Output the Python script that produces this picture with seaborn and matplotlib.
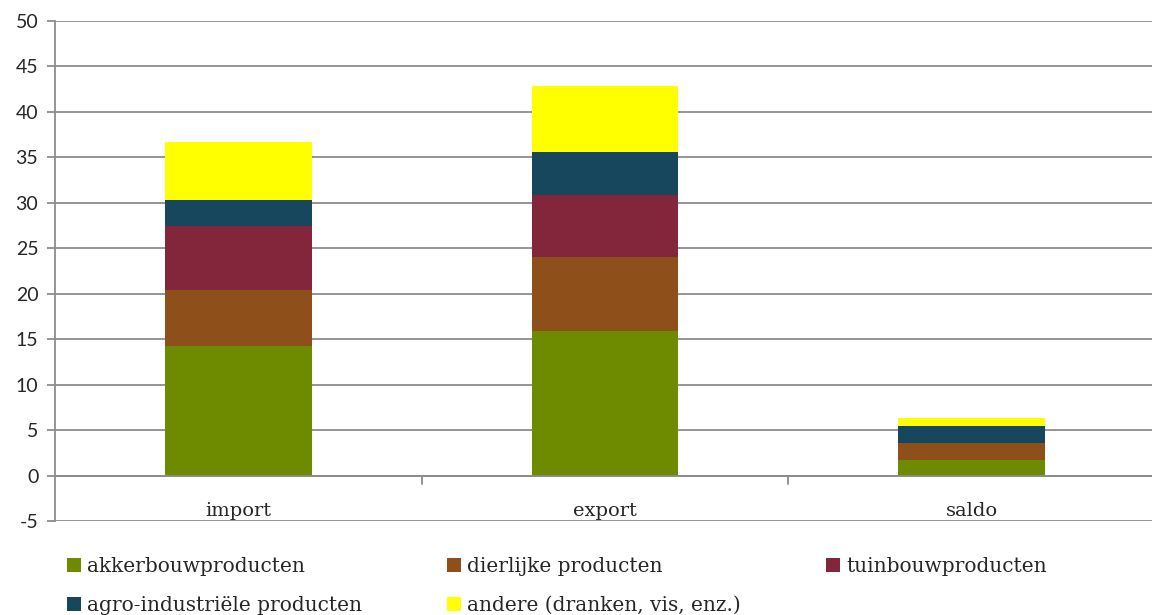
import matplotlib
matplotlib.use("Agg")
import matplotlib.pyplot as plt
import numpy as np
import pandas as pd
import seaborn as sns
from matplotlib.patches import Patch

categories = ["import", "export", "saldo"]
series = ["akkerbouwproducten", "dierlijke producten", "tuinbouwproducten",
          "agro-industriële producten", "andere (dranken, vis, enz.)"]
akkerbouw = [14.2, 15.9, 1.7]
dierlijk = [6.2, 8.1, 1.9]
tuinbouw = [7.0, 6.9, -0.1]
agro = [2.9, 4.7, 1.8]
andere = [6.4, 7.3, 0.9]
colors = ["#6e8b00", "#8f4f1b", "#84263b", "#17475d", "#ffff00"]

values = [akkerbouw, dierlijk, tuinbouw, agro, andere]

sns.set_theme(style="white")
plt.rcParams["font.family"] = ["DejaVu Serif"]
plt.rcParams["axes.unicode_minus"] = False

fig = plt.figure(figsize=(11.52, 6.15), dpi=100)
ax = fig.add_axes([55 / 1152, 1 - 521 / 615, 1100 / 1152, 500 / 615])

# gestapelde balken, negatieve waarden onder nul
pos_base = np.zeros(len(categories))
neg_base = np.zeros(len(categories))
for name, vals, col in zip(series, values, colors):
    vals = np.array(vals, dtype=float)
    bottom = np.where(vals >= 0, pos_base, neg_base)
    df = pd.DataFrame({"cat": categories, "val": vals})
    sns.barplot(data=df, x="cat", y="val", order=categories, color=col,
                saturation=1, width=0.4, bottom=bottom, ax=ax, zorder=3,
                linewidth=0, errorbar=None)
    pos_base = pos_base + np.where(vals >= 0, vals, 0)
    neg_base = neg_base + np.where(vals < 0, vals, 0)

ax.set_ylim(-5, 50)
ax.set_xlim(-0.5, 2.5)
ax.set_yticks(range(-5, 51, 5))
ax.yaxis.grid(True, color="#8c8c8c", linewidth=1.3, zorder=0)
ax.set_axisbelow(True)
for s in ["top", "right", "bottom"]:
    ax.spines[s].set_visible(False)
ax.spines["left"].set_color("#8c8c8c")
ax.spines["left"].set_linewidth(1.3)
ax.tick_params(axis="y", left=True, length=6, width=1.3, color="#8c8c8c",
               labelsize=14, pad=6)
for lab in ax.get_yticklabels():
    lab.set_family("Lato")
ax.set_xlabel("")
ax.set_ylabel("")
ax.set_xticks([0, 1, 2])
ax.set_xticklabels(categories, va="center")
ax.tick_params(axis="x", bottom=False, labelsize=14, pad=-13)

# nul-as met scheidingstreepjes tussen categorieën
ax.axhline(0, color="#8c8c8c", linewidth=1.3, zorder=4)
for xb in [0.5, 1.5]:
    ax.plot([xb, xb], [0, -0.9], color="#8c8c8c", linewidth=1.3, zorder=4,
            clip_on=False)

# legenda: 3 kolommen, rij per rij
col_x = [67 / 1152, 447 / 1152, 826 / 1152]
for j, x0 in enumerate(col_x):
    idx = [i for i in (j, j + 3) if i < len(series)]
    hs = [Patch(facecolor=colors[i], edgecolor="none") for i in idx]
    fig.legend(hs, [series[i] for i in idx], loc="upper left",
               bbox_to_anchor=(x0, 1 - 557 / 615), frameon=False,
               fontsize=14.5, handlelength=0.7, handleheight=0.7,
               handletextpad=0.3, labelspacing=1.0, borderaxespad=0,
               borderpad=0)

fig.savefig("out.png", dpi=100)
